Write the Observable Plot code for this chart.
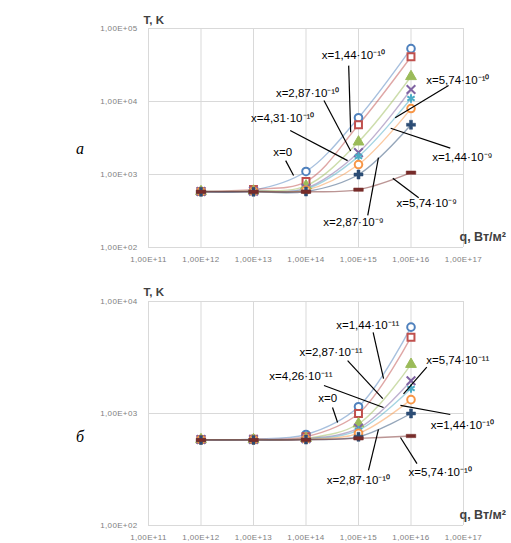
<!DOCTYPE html>
<html><head><meta charset="utf-8">
<script src="https://cdn.jsdelivr.net/npm/d3@7"></script>
<script src="https://cdn.jsdelivr.net/npm/@observablehq/plot@0.6"></script>
<style>
body{margin:0;background:#fff;}
#wrap{position:relative;width:511px;height:543px;overflow:hidden;font-family:"Liberation Sans",Arial,sans-serif;}
.panel{position:absolute;left:0;}
.panel g[aria-label$="tick label"] text{letter-spacing:0.35px;}
.lab{position:absolute;font-family:"Liberation Serif","DejaVu Serif",serif;font-style:italic;font-size:16px;color:#000;}
</style></head>
<body><div id="wrap"></div>
<script>
// ---- data ----
const qValues = [1e12, 1e13, 1e14, 1e15, 1e16];
const xTicks = [1e11, 1e12, 1e13, 1e14, 1e15, 1e16, 1e17];
const yTicksA = [1e2, 1e3, 1e4, 1e5];
const yTicksB = [1e2, 1e3, 1e4];

const seriesA = ["x=0", "x=1,44·10⁻¹⁰", "x=2,87·10⁻¹⁰", "x=4,31·10⁻¹⁰", "x=5,74·10⁻¹⁰", "x=1,44·10⁻⁹", "x=2,87·10⁻⁹", "x=5,74·10⁻⁹"];
const tA0 = [585, 610, 1100, 6000, 53000];
const tA1 = [585, 625, 800, 4800, 41000];
const tA2 = [585, 595, 700, 2800, 22000];
const tA3 = [585, 590, 650, 2000, 14600];
const tA4 = [585, 590, 630, 1770, 11000];
const tA5 = [585, 590, 610, 1370, 8000];
const tA6 = [580, 580, 585, 1000, 4800];
const tA7 = [580, 580, 580, 620, 1060];

const seriesB = ["x=0", "x=1,44·10⁻¹¹", "x=2,87·10⁻¹¹", "x=4,26·10⁻¹¹", "x=5,74·10⁻¹¹", "x=1,44·10⁻¹⁰", "x=2,87·10⁻¹⁰", "x=5,74·10⁻¹⁰"];
const tB0 = [585, 590, 650, 1150, 5900];
const tB1 = [585, 588, 620, 1000, 4800];
const tB2 = [585, 585, 600, 810, 2750];
const tB3 = [585, 585, 595, 740, 1960];
const tB4 = [585, 585, 590, 710, 1670];
const tB5 = [585, 585, 590, 665, 1330];
const tB6 = [580, 580, 585, 620, 1000];
const tB7 = [580, 580, 582, 600, 630];

// annotations (data coordinates)
const annoTextA = ["x=1,44·10⁻¹⁰", "x=2,87·10⁻¹⁰", "x=4,31·10⁻¹⁰", "x=0", "x=5,74·10⁻¹⁰", "x=1,44·10⁻⁹", "x=5,74·10⁻⁹", "x=2,87·10⁻⁹"];
const annoQA = [8.0e14, 1.07e14, 3.6e13, 3.6e13, 7.8e16, 9.5e16, 2.0e16, 8.0e14];
const annoTA = [4.3e4, 1.3e4, 5.9e3, 2.0e3, 1.95e4, 1.7e3, 400, 220];
const leadQ1A = [6.5e14, 2.2e14, 5.0e13, 4.1e13, 5.2e16, 5.6e16, 1.4e16, 1.5e15];
const leadT1A = [3.1e4, 1.03e4, 4.0e3, 1.55e3, 1.66e4, 2.3e3, 480, 275];
const leadQ2A = [7.1e14, 7.1e14, 6.2e14, 5.8e13, 5.0e15, 4.1e15, 4.5e15, 2.4e15];
const leadT2A = [3.8e3, 2.1e3, 1.55e3, 970, 6.0e3, 4.3e3, 890, 1.7e3];

const annoTextB = ["x=1,44·10⁻¹¹", "x=2,87·10⁻¹¹", "x=4,26·10⁻¹¹", "x=0", "x=5,74·10⁻¹¹", "x=1,44·10⁻¹⁰", "x=5,74·10⁻¹⁰", "x=2,87·10⁻¹⁰"];
const annoQB = [1.5e15, 3.0e14, 8.0e13, 2.6e14, 7.8e16, 9.5e16, 3.6e16, 1.0e15];
const annoTB = [6.1e3, 3.5e3, 2.14e3, 1.36e3, 2.96e3, 780, 297, 252];
const leadQ1B = [1.9e15, 6.2e14, 2.2e14, 3.2e14, 2.0e16, 5.6e16, 1.3e16, 1.55e15];
const leadT1B = [5.3e3, 2.96e3, 1.78e3, 1.13e3, 2.6e3, 980, 357, 310];
const leadQ2B = [3.0e15, 2.9e15, 3.0e15, 4.0e14, 7.2e15, 6.3e15, 6.3e15, 2.4e15];
const leadT2B = [2.05e3, 1.36e3, 1.13e3, 830, 1.5e3, 1.18e3, 610, 720];

// ---- styles ----
const colors = ["#4F81BD", "#C0504D", "#9BBB59", "#8064A2", "#4BACC6", "#F79646", "#2C4D75", "#772C2A"];
const dash = {draw(ctx, size){ const w = Math.sqrt(size) * 0.6, h = w * 0.35; ctx.moveTo(-w,-h); ctx.lineTo(w,-h); ctx.lineTo(w,h); ctx.lineTo(-w,h); ctx.closePath(); }};
const markerStyles = [
  {symbol:"circle", fill:"white", stroke:colors[0], strokeWidth:2, r:3.8},
  {symbol:"square", fill:"white", stroke:colors[1], strokeWidth:2, r:3.9},
  {symbol:"triangle", fill:colors[2], stroke:colors[2], strokeWidth:1, r:4},
  {symbol:"times", fill:"none", stroke:colors[3], strokeWidth:2, r:4},
  {symbol:"asterisk", fill:"none", stroke:colors[4], strokeWidth:2, r:4},
  {symbol:"circle", fill:"white", stroke:colors[5], strokeWidth:2, r:3.8},
  {symbol:"cross", fill:colors[6], stroke:colors[6], strokeWidth:0.5, r:3.8},
  {symbol:dash, fill:colors[7], stroke:colors[7], strokeWidth:0.5, r:4.5}
];

const fmtE = d => "1,00E+" + String(Math.round(Math.log10(d))).padStart(2, "0");
const tickFont = "'Liberation Sans', Arial, sans-serif";

function panel(opts){
  const {series, values, yDomain, yTicks, anno, m} = opts;
  const marks = [
    Plot.ruleX(xTicks, {stroke:"#D9D9D9", strokeWidth:1}),
    Plot.ruleY(yTicks, {stroke:"#D9D9D9", strokeWidth:1}),
    Plot.axisX(xTicks, {tickSize:0, tickPadding:9, tickFormat:fmtE, fontSize:8, fontFamily:tickFont, fill:"#808080", label:null}),
    Plot.axisY(yTicks, {tickSize:0, tickPadding:11, tickFormat:fmtE, fontSize:8, fontFamily:tickFont, fill:"#808080", label:null})
  ];
  series.forEach((s, i) => {
    const rows = qValues.map((q, j) => ({q, T: values[i][j]}));
    marks.push(Plot.line(rows, {x:"q", y:"T", stroke:colors[i], strokeOpacity:0.5, strokeWidth:1.4, curve:"catmull-rom"}));
  });
  series.forEach((s, i) => {
    const rows = qValues.map((q, j) => ({q, T: values[i][j]}));
    marks.push(Plot.dot(rows, {x:"q", y:"T", ...markerStyles[i]}));
  });
  const idx = anno.text.map((_, i) => i);
  marks.push(Plot.link(idx, {x1: i => anno.q1[i], y1: i => anno.t1[i], x2: i => anno.q2[i], y2: i => anno.t2[i], stroke:"#000", strokeWidth:1.2}));
  marks.push(Plot.text(idx, {x: i => anno.q[i], y: i => anno.t[i], text: i => anno.text[i], fontSize:11.5, fill:"#000", textAnchor:"middle"}));
  marks.push(Plot.text(["T, K"], {frameAnchor:"top-left", dx:-5, dy:m.titleDy, textAnchor:"start", fontSize:11.5, fontWeight:"bold", fill:"#404040"}));
  marks.push(Plot.text(["q, Вт/м²"], {frameAnchor:"bottom-right", dx:-4, dy:-7, textAnchor:"start", fontSize:12.5, fontWeight:"bold", fill:"#404040"}));
  return Plot.plot({
    width:511, height:m.height,
    marginLeft:148, marginRight:48, marginTop:m.top, marginBottom:m.bottom,
    style:{fontFamily:"'Liberation Sans', Arial, sans-serif", background:"transparent", overflow:"visible"},
    x:{type:"log", domain:[1e11, 1e17]},
    y:{type:"log", domain:yDomain},
    marks
  });
}

const wrap = document.getElementById("wrap");
const pA = panel({series:seriesA, values:[tA0,tA1,tA2,tA3,tA4,tA5,tA6,tA7], yDomain:[1e2,1e5], yTicks:yTicksA,
  anno:{text:annoTextA, q:annoQA, t:annoTA, q1:leadQ1A, t1:leadT1A, q2:leadQ2A, t2:leadT2A},
  m:{height:270, top:28, bottom:23, titleDy:-13}});
pA.classList.add("panel"); pA.style.top = "0px";
wrap.appendChild(pA);
const pB = panel({series:seriesB, values:[tB0,tB1,tB2,tB3,tB4,tB5,tB6,tB7], yDomain:[1e2,1e4], yTicks:yTicksB,
  anno:{text:annoTextB, q:annoQB, t:annoTB, q1:leadQ1B, t1:leadT1B, q2:leadQ2B, t2:leadT2B},
  m:{height:273, top:31, bottom:18, titleDy:-14}});
pB.classList.add("panel"); pB.style.top = "270px";
wrap.appendChild(pB);

const la = document.createElement("div"); la.className = "lab"; la.textContent = "а";
la.style.left = "76px"; la.style.top = "140px"; wrap.appendChild(la);
const lb = document.createElement("div"); lb.className = "lab"; lb.textContent = "б";
lb.style.left = "76px"; lb.style.top = "428px"; wrap.appendChild(lb);
</script>
</body></html>
